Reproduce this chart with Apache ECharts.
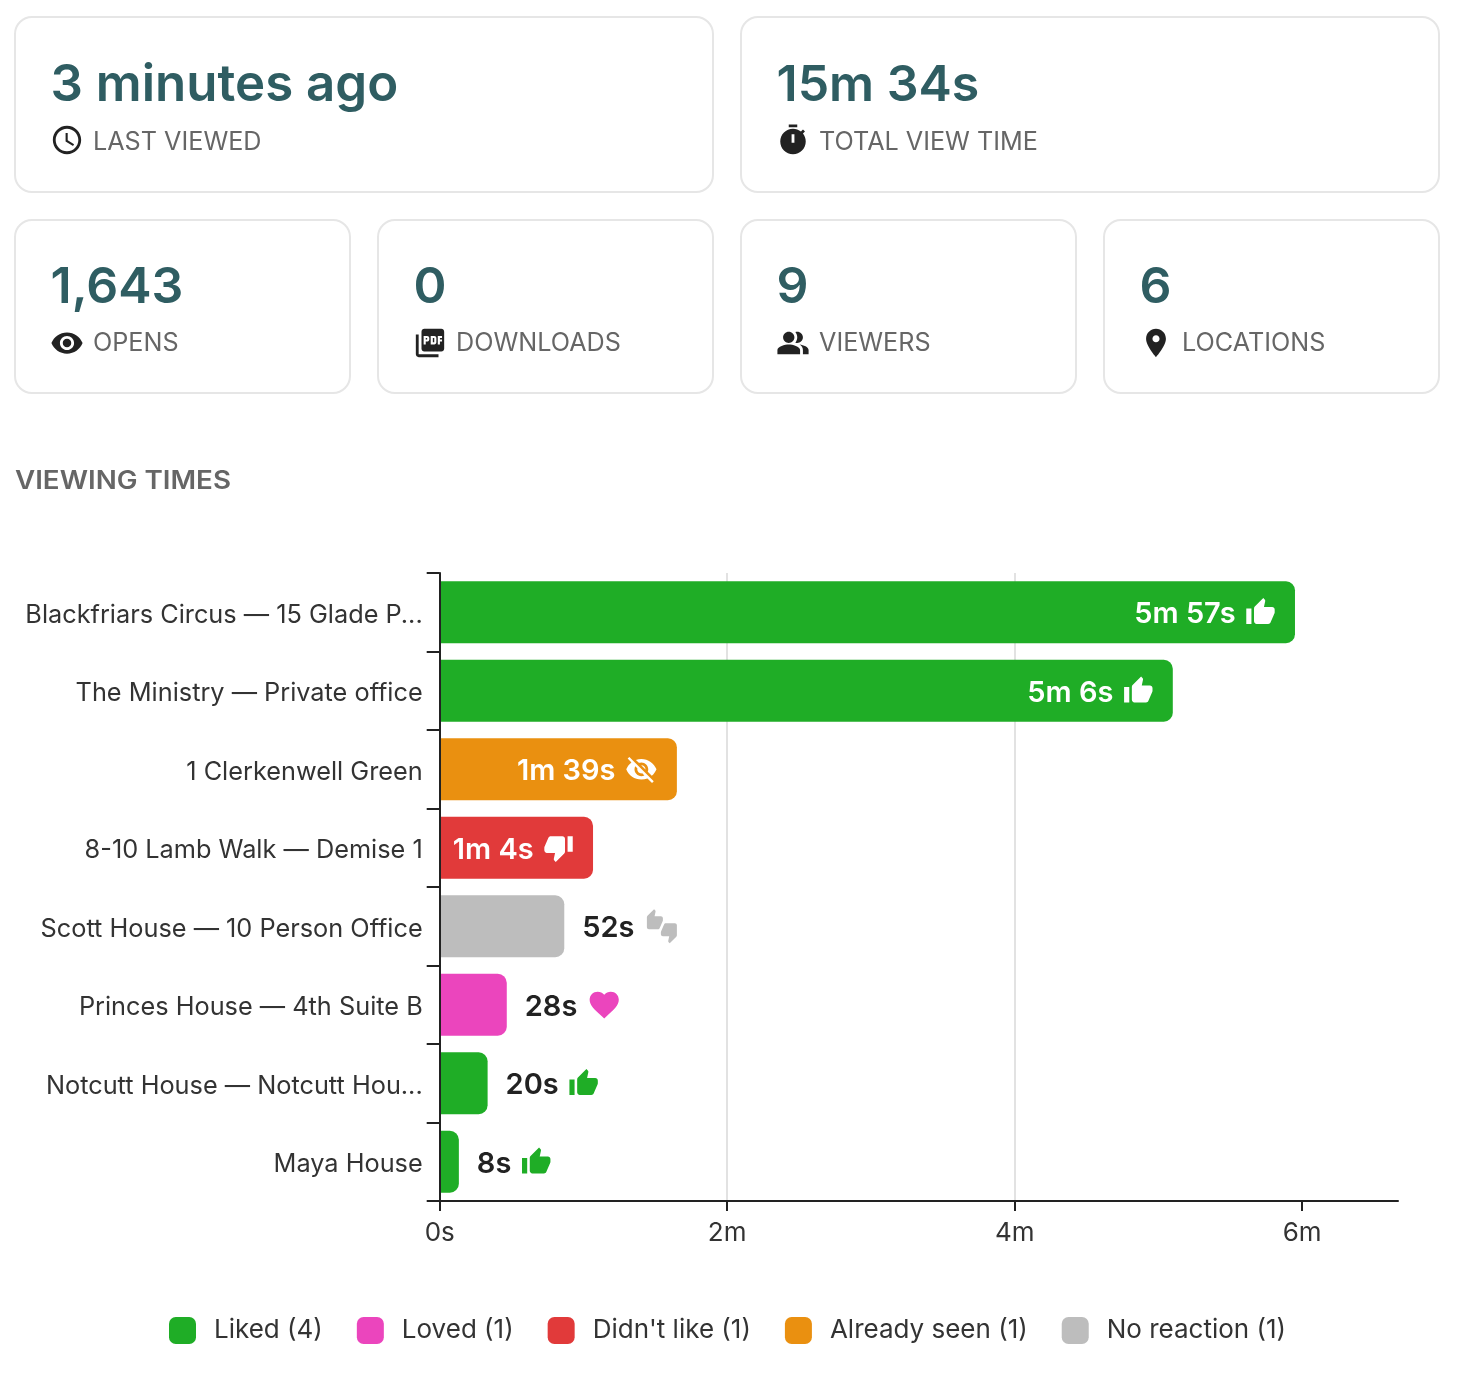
<!DOCTYPE html>
<html><head><meta charset="utf-8">
<style>html,body{margin:0;padding:0;background:#fff}#c{width:1462px;height:1376px}</style>
<script src="https://cdn.jsdelivr.net/npm/echarts@6/dist/echarts.min.js"></script>
</head><body><div id="c"></div>
<script>
const categories = ['Blackfriars Circus — 15 Glade P...','The Ministry — Private office','1 Clerkenwell Green','8-10 Lamb Walk — Demise 1','Scott House — 10 Person Office','Princes House — 4th Suite B','Notcutt House — Notcutt Hou...','Maya House'];
const liked      = [357,306,null,null,null,null,20,8];
const loved      = [null,null,null,null,null,28,null,null];
const didntLike  = [null,null,null,64,null,null,null,null];
const alreadySeen= [null,null,99,null,null,null,null,null];
const noReaction = [null,null,null,null,52,null,null,null];
const xTicks = [0,120,240,360];
const xTickLabels = ['0s','2m','4m','6m'];
const statValues = ['3 minutes ago','15m 34s','1,643','0','9','6'];
const statLabels = ['LAST VIEWED','TOTAL VIEW TIME','OPENS','DOWNLOADS','VIEWERS','LOCATIONS'];

const INK='#222222', LABEL='#333333', TEAL='#2F5D62', MUTED='#666666';
const COL={liked:'#1FAD26',loved:'#EB45BD',didnt:'#E13A3A',seen:'#EA9010',none:'#BDBDBD'};

const P={
 clock:'M11.99 2C6.47 2 2 6.48 2 12s4.47 10 9.99 10C17.52 22 22 17.52 22 12S17.52 2 11.99 2zM12 20c-4.42 0-8-3.58-8-8s3.58-8 8-8 8 3.58 8 8-3.58 8-8 8zm.5-13H11v6l5.25 3.15.75-1.23-4.5-2.67z',
 timer:'M15 1H9v2h6V1zm-4 13h2V8h-2v6zm8.03-6.61l1.42-1.42c-.43-.51-.9-.99-1.41-1.41l-1.42 1.42C16.07 4.74 14.12 4 12 4c-4.97 0-9 4.03-9 9s4.02 9 9 9 9-4.03 9-9c0-2.12-.74-4.07-1.97-5.61z',
 eye:'M12 4.5C7 4.5 2.73 7.61 1 12c1.73 4.39 6 7.5 11 7.5s9.27-3.11 11-7.5c-1.73-4.39-6-7.5-11-7.5zM12 17c-2.76 0-5-2.24-5-5s2.24-5 5-5 5 2.24 5 5-2.24 5-5 5zm0-8c-1.66 0-3 1.34-3 3s1.34 3 3 3 3-1.34 3-3-1.34-3-3-3z',
 pdf:'M20 2H8c-1.1 0-2 .9-2 2v12c0 1.1.9 2 2 2h12c1.1 0 2-.9 2-2V4c0-1.1-.9-2-2-2zm-8.5 7.5c0 .83-.67 1.5-1.5 1.5H9v2H7.5V7H10c.83 0 1.5.67 1.5 1.5v1zm5 2c0 .83-.67 1.5-1.5 1.5h-2.5V7H15c.83 0 1.5.67 1.5 1.5v3zm4-3H19v1h1.5V11H19v2h-1.5V7h3v1.5zM9 9.5h1v-1H9v1zM4 6H2v14c0 1.1.9 2 2 2h14v-2H4V6zm10 5.5h1v-3h-1v3z',
 people:'M16.67 13.13C18.04 14.06 19 15.32 19 17v3h4v-3c0-2.18-3.57-3.47-6.33-3.87zM15 12c2.21 0 4-1.79 4-4s-1.79-4-4-4c-.47 0-.91.1-1.33.24C14.5 5.27 15 6.58 15 8s-.5 2.73-1.33 3.76c.42.14.86.24 1.33.24zM9 12c2.21 0 4-1.79 4-4s-1.79-4-4-4-4 1.79-4 4 1.79 4 4 4zM9 13c-2.67 0-8 1.34-8 4v3h16v-3c0-2.66-5.33-4-8-4z',
 place:'M12 2C8.13 2 5 5.13 5 9c0 5.25 7 13 7 13s7-7.75 7-13c0-3.87-3.13-7-7-7zm0 9.5c-1.38 0-2.5-1.12-2.5-2.5s1.12-2.5 2.5-2.5 2.5 1.12 2.5 2.5-1.12 2.5-2.5 2.5z',
 up:'M1 21h4V9H1v12zm22-11c0-1.1-.9-2-2-2h-6.31l.95-4.57.03-.32c0-.41-.17-.79-.44-1.06L14.17 1 7.59 7.59C7.22 7.95 7 8.45 7 9v10c0 1.1.9 2 2 2h9c.83 0 1.54-.5 1.84-1.22l3.02-7.05c.09-.23.14-.47.14-.73v-2z',
 down:'M15 3H6c-.83 0-1.54.5-1.84 1.22l-3.02 7.05c-.09.23-.14.47-.14.73v2c0 1.1.9 2 2 2h6.31l-.95 4.57-.03.32c0 .41.17.79.44 1.06L9.83 23l6.59-6.59c.36-.36.58-.86.58-1.41V5c0-1.1-.9-2-2-2zm4 0v12h4V3h-4z',
 upHand:'M23 10c0-1.1-.9-2-2-2h-6.31l.95-4.57.03-.32c0-.41-.17-.79-.44-1.06L14.17 1 7.59 7.59C7.22 7.95 7 8.45 7 9v10c0 1.1.9 2 2 2h9c.83 0 1.54-.5 1.84-1.22l3.02-7.05c.09-.23.14-.47.14-.73v-2z',
 downHand:'M15 3H6c-.83 0-1.54.5-1.84 1.22l-3.02 7.05c-.09.23-.14.47-.14.73v2c0 1.1.9 2 2 2h6.31l-.95 4.57-.03.32c0 .41.17.79.44 1.06L9.83 23l6.59-6.59c.36-.36.58-.86.58-1.41V5c0-1.1-.9-2-2-2z',
 off:'M12 7c2.76 0 5 2.24 5 5 0 .65-.13 1.26-.36 1.83l2.92 2.92c1.51-1.26 2.7-2.89 3.43-4.75-1.73-4.39-6-7.5-11-7.5-1.4 0-2.74.25-3.98.7l2.16 2.16C10.74 7.13 11.35 7 12 7zM2 4.27l2.28 2.28.46.46C3.08 8.3 1.78 10.02 1 12c1.73 4.39 6 7.5 11 7.5 1.55 0 3.03-.3 4.38-.84l.42.42L19.73 22 21 20.73 3.27 3 2 4.27zM7.53 9.8l1.55 1.55c-.05.21-.08.43-.08.65 0 1.66 1.34 3 3 3 .22 0 .44-.03.65-.08l1.55 1.55c-.67.33-1.41.53-2.2.53-2.76 0-5-2.24-5-5 0-.79.2-1.53.53-2.2zm4.31-.78l3.15 3.15.02-.16c0-1.66-1.34-3-3-3l-.17.01z',
 heart:'M12 21.35l-1.45-1.32C5.4 15.36 2 12.28 2 8.5 2 5.42 4.42 3 7.5 3c1.74 0 3.41.81 4.5 2.09C13.09 3.81 14.76 3 16.5 3 19.58 3 22 5.42 22 8.5c0 3.78-3.4 6.86-8.55 11.54L12 21.35z'
};
function svgUrl(inner,w,h,vw,vh){
  return 'data:image/svg+xml;charset=utf-8,'+encodeURIComponent(`<svg xmlns="http://www.w3.org/2000/svg" width="${w*2}" height="${h*2}" viewBox="0 0 ${vw} ${vh}">${inner}</svg>`);
}
const icon=(d,c,s)=>svgUrl(`<path fill="${c}" fill-rule="evenodd" d="${d}"/>`,s,s,24,24);
const mixed=c=>svgUrl(`<g transform="translate(-4,0) scale(1)"><path fill="${c}" d="${P.upHand}"/></g><g transform="translate(16,12) scale(1)"><path fill="${c}" d="${P.downHand}"/></g>`,40,36,40,36);

const txt=(size,color)=>({fontFamily:'Inter',fontWeight:600,fontSize:size,color:color,padding:[5,6,0,0]});
const ic=(url,s)=>({width:s,height:s,backgroundColor:{image:url}});
const rich={
  w:txt(29,'#fff'), d:txt(29,INK),
  upW:ic(icon(P.up,'#fff',31),31),
  upG:ic(icon(P.up,COL.liked,31),31),
  downW:ic(icon(P.down,'#fff',31),31),
  offW:ic(icon(P.off,'#fff',33),33),
  heart:ic(icon(P.heart,COL.loved,35),35),
  mix:{width:40,height:36,backgroundColor:{image:mixed(COL.none)}}
};
const fmt=v=>{const m=Math.floor(v/60),s=v%60;return (m?m+'m ':'')+s+'s';};
const INSIDE_MIN=60;
function series(name,color,values,iconIn,iconOut){
  return {name,type:'bar',stack:'t',barWidth:62,
    itemStyle:{color,borderRadius:[0,9,9,0]},
    data:values.map(v=>v==null?null:{value:v,label:{position:v>=INSIDE_MIN?'insideRight':'right',distance:v>=INSIDE_MIN?19:18}}),
    label:{show:true,formatter:p=>p.value>=INSIDE_MIN?`{w|${fmt(p.value)}} {${iconIn}|}`:`{d|${fmt(p.value)}} {${iconOut}|}`,rich}
  };
}

/* stat cards */
const cards=[[15,17,698,175],[741,17,698,175],[15,220,335,173],[378,220,335,173],[741,220,335,173],[1104,220,335,173]];
const cardIcons=[P.clock,P.timer,P.eye,P.pdf,P.people,P.place];
const g=[];
cards.forEach((c,i)=>{
  const [x,y,w,h]=c, row1=i<2;
  g.push({type:'rect',shape:{x,y,width:w,height:h,r:17},style:{fill:'#fff',stroke:'#E6E6E6',lineWidth:2},z:1});
  g.push({type:'text',x:x+35.5,y:y+(row1?69:68),z:2,style:{text:statValues[i],fill:TEAL,font:`600 ${i===0?51:50}px Inter`,textVerticalAlign:'middle'}});
  g.push({type:'image',z:2,style:{image:icon(cardIcons[i],INK,34),x:x+35,y:y+106,width:34,height:34}});
  g.push({type:'text',x:x+78,y:y+(row1?125:123),z:2,style:{text:statLabels[i],fill:MUTED,font:'400 25.2px Inter',textVerticalAlign:'middle'}});
});
g.push({type:'text',x:15,y:481,scaleX:1.11,z:2,style:{text:'VIEWING TIMES',fill:MUTED,font:'600 25px Inter',textVerticalAlign:'middle'}});

const chart=echarts.init(document.getElementById('c'),null,{width:1462,height:1376});
chart.setOption({
  animation:false,backgroundColor:'#fff',
  textStyle:{fontFamily:'Inter'},
  graphic:g,
  grid:{left:439.7,right:64,top:573,bottom:175,containLabel:false},
  legend:{left:169,top:1317,padding:0,itemWidth:27,itemHeight:27,itemGap:34,icon:'roundRect',
    textStyle:{fontFamily:'Inter',fontSize:26,color:LABEL,padding:[2,0,0,13]}},
  xAxis:{type:'value',min:0,max:400,interval:120,
    axisLine:{show:true,lineStyle:{color:INK,width:2}},
    axisTick:{show:true,length:10,customValues:xTicks,lineStyle:{color:INK,width:2}},
    axisLabel:{customValues:xTicks,margin:19,fontFamily:'Inter',fontSize:26,color:LABEL,
      formatter:v=>xTickLabels[xTicks.indexOf(v)]},
    splitLine:{show:true,showMaxLine:false,lineStyle:{color:'#E2E2E2',width:2}}
  },
  yAxis:{type:'category',inverse:true,data:categories,z:5,
    axisLine:{show:true,lineStyle:{color:INK,width:2}},
    axisTick:{show:true,length:13,lineStyle:{color:INK,width:2}},
    axisLabel:{margin:17,formatter:v=>`{l|${v}}`,
      rich:{l:{fontFamily:'Inter',fontSize:25.3,color:LABEL,padding:[6,0,0,0]}}}
  },
  series:[
    series('Liked (4)',COL.liked,liked,'upW','upG'),
    series('Loved (1)',COL.loved,loved,'upW','heart'),
    series("Didn't like (1)",COL.didnt,didntLike,'downW','downW'),
    series('Already seen (1)',COL.seen,alreadySeen,'offW','offW'),
    series('No reaction (1)',COL.none,noReaction,'mix','mix')
  ]
});
</script></body></html>
